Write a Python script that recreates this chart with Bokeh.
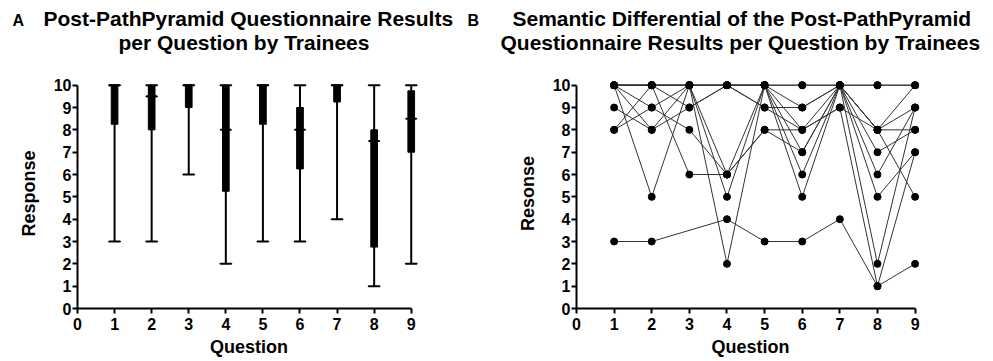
import numpy as np
from bokeh.plotting import figure
from bokeh.models import Range1d, Title, ColumnDataSource, FixedTicker
from bokeh.layouts import row
from bokeh.embed import file_html
from bokeh.resources import INLINE

# ---------------- data ----------------
questions = [1, 2, 3, 4, 5, 6, 7, 8, 9]
x_ticks = [0, 1, 2, 3, 4, 5, 6, 7, 8, 9]
y_ticks = [0, 1, 2, 3, 4, 5, 6, 7, 8, 9, 10]

# responses of each trainee per question (None = no answer)
trainee_01 = [3, 3, None, 4, 3, 3, 4, 1, 2]
trainee_02 = [10, 10, 10, 10, 10, 10, 10, 10, 10]
trainee_03 = [10, 10, 10, 10, 10, 10, 10, 10, 10]
trainee_04 = [10, 10, 10, 10, 10, 7, 10, 7, 8]
trainee_05 = [10, 10, 6, 6, 8, 8, 9, 1, 7]
trainee_06 = [10, 8, 9, 10, 9, 8, 9, 8, 10]
trainee_07 = [10, 5, 10, 2, 10, 9, 10, 8, 9]
trainee_08 = [10, 9, 10, 6, 8, 7, 10, 2, 9]
trainee_09 = [9, 8, 10, 5, 10, 8, 10, 8, 5]
trainee_10 = [8, 10, 10, 10, 10, 6, 10, 6, 9]
trainee_11 = [8, 9, 8, 6, 10, 5, 10, 5, 7]
trainee_12 = [10, 10, 9, 10, 9, 9, 10, 8, 8]

trainees = [trainee_01, trainee_02, trainee_03, trainee_04, trainee_05, trainee_06,
            trainee_07, trainee_08, trainee_09, trainee_10, trainee_11, trainee_12]

title_a = ["Post-PathPyramid Questionnaire Results", "per Question by Trainees"]
title_b = ["Semantic Differential of the Post-PathPyramid",
           "Questionnaire Results per Question by Trainees"]

FONT = "Liberation Sans"

# ---------------- box statistics ----------------
mins, q1s, meds, q3s, maxs = [], [], [], [], []
for i in range(len(questions)):
    vals = [t[i] for t in trainees if t[i] is not None]
    s = np.percentile(vals, [0, 25, 50, 75, 100], method="weibull")
    mins.append(s[0]); q1s.append(s[1]); meds.append(s[2]); q3s.append(s[3]); maxs.append(s[4])

box_src = ColumnDataSource(dict(q=questions, lo=mins, q1=q1s, med=meds, q3=q3s, hi=maxs))


def make_fig(width, left, right, title_lines, title_offsets, ylabel, panel_letter, letter_offset):
    p = figure(width=width, height=359, output_backend="svg", toolbar_location=None,
               x_range=Range1d(0, 9.25), y_range=Range1d(0, 10.3),
               min_border_left=left, min_border_right=right,
               min_border_top=78, min_border_bottom=45)
    p.add_layout(Title(text=title_lines[1], align="left", text_font=FONT,
                       text_font_size="21px", text_font_style="bold",
                       text_color="black", offset=title_offsets[1], standoff=49), "above")
    p.add_layout(Title(text=title_lines[0], align="left", text_font=FONT,
                       text_font_size="21px", text_font_style="bold",
                       text_color="black", offset=title_offsets[0], standoff=-51), "above")
    p.add_layout(Title(text=panel_letter, align="left", text_font=FONT,
                       text_font_size="16px", text_font_style="bold",
                       text_color="black", offset=letter_offset, standoff=-49), "above")
    p.outline_line_color = None
    p.xgrid.visible = False
    p.ygrid.visible = False
    p.xaxis.bounds = (0, 9)
    p.yaxis.bounds = (0, 10)
    p.xaxis.ticker = FixedTicker(ticks=x_ticks)
    p.yaxis.ticker = FixedTicker(ticks=y_ticks)
    for ax in (p.xaxis[0], p.yaxis[0]):
        ax.axis_line_width = 2
        ax.axis_line_color = "black"
        ax.major_tick_line_width = 2
        ax.major_tick_line_color = "black"
        ax.major_tick_out = 5
        ax.major_tick_in = 0
        ax.minor_tick_line_color = None
        ax.major_label_text_font = FONT
        ax.major_label_text_font_size = "16px"
        ax.major_label_text_font_style = "bold"
        ax.major_label_text_color = "black"
        ax.axis_label_text_font = FONT
        ax.axis_label_text_font_size = "18px"
        ax.axis_label_text_font_style = "bold"
        ax.axis_label_text_color = "black"
    p.xaxis.major_label_standoff = 4
    p.yaxis.major_label_standoff = 1
    p.xaxis.axis_label = "Question"
    p.yaxis.axis_label = ylabel
    p.xaxis.axis_label_standoff = 4
    p.yaxis.axis_label_standoff = 12
    return p


# ---------------- panel A ----------------
pa = make_fig(460, 77, 40, title_a, (-34, 41), "Response", "A", -65)
pa.segment(x0="q", x1="q", y0="lo", y1="hi", source=box_src, line_color="black", line_width=2)
pa.vbar(x="q", width=0.18, bottom="q1", top="q3", source=box_src,
        fill_color="black", line_color="black", line_width=1)
pa.rect(x="q", y="lo", width=0.3, height=0.001, source=box_src,
        line_color="black", line_width=2, fill_color="black")
pa.rect(x="q", y="hi", width=0.3, height=0.001, source=box_src,
        line_color="black", line_width=2, fill_color="black")
pa.rect(x="q", y="med", width=0.28, height=0.001, source=box_src,
        line_color="black", line_width=2, fill_color="black")

# ---------------- panel B ----------------
pb = make_fig(533, 116, 69, title_b, (-64, -76), "Resonse", "B", -109)
for t in trainees:
    xs = [q for q, v in zip(questions, t) if v is not None]
    ys = [v for v in t if v is not None]
    pb.line(xs, ys, line_color="#333333", line_width=1)
for t in trainees:
    xs = [q for q, v in zip(questions, t) if v is not None]
    ys = [v for v in t if v is not None]
    pb.scatter(xs, ys, size=7, fill_color="black", line_color="black")

layout = row(pa, pb)
open("out.html", "w").write(file_html(layout, INLINE))
